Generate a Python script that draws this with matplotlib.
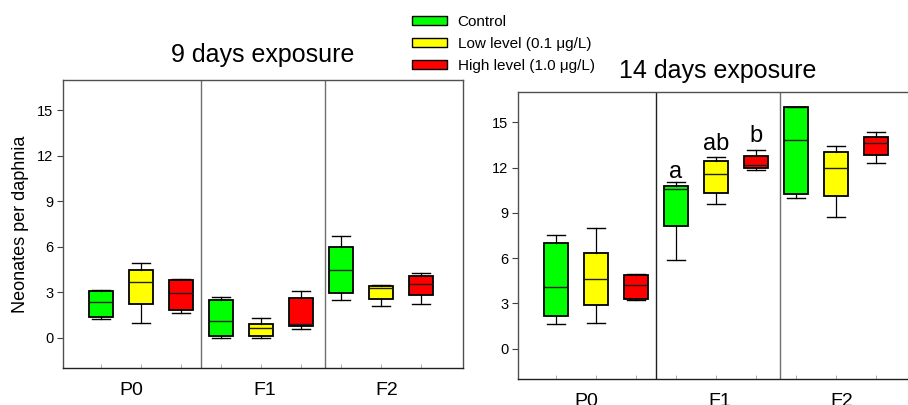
import matplotlib
matplotlib.use("Agg")
import matplotlib.pyplot as plt
from matplotlib.patches import Patch

plt.rcParams['font.family'] = ['Liberation Sans', 'DejaVu Sans']

generations = ["P0", "F1", "F2"]
treatments = ["Control", "Low level (0.1 \u03bcg/L)", "High level (1.0 \u03bcg/L)"]
colors = ["#00FF00", "#FFFF00", "#FF0000"]

# 9 days exposure: order P0(C,L,H), F1(C,L,H), F2(C,L,H)
d9_whislo = [1.23, 0.99, 1.60, 0.00, 0.00, 0.59, 2.50, 2.09, 2.22]
d9_q1     = [1.34, 2.24, 1.84, 0.13, 0.13, 0.75, 2.97, 2.57, 2.81]
d9_med    = [2.33, 3.67, 2.97, 1.12, 0.61, 0.90, 4.48, 3.25, 3.56]
d9_q3     = [3.10, 4.48, 3.80, 2.50, 0.90, 2.59, 6.00, 3.38, 4.09]
d9_whishi = [3.14, 4.94, 3.87, 2.70, 1.27, 3.10, 6.74, 3.47, 4.28]

# 14 days exposure
d14_whislo = [1.63, 1.74, 3.22, 5.90, 9.56, 11.85, 9.98, 8.74, 12.29]
d14_q1     = [2.16, 2.91, 3.28, 8.15, 10.29, 11.98, 10.22, 10.11, 12.82]
d14_med    = [4.10, 4.60, 4.19, 10.57, 11.56, 12.14, 13.85, 11.94, 13.61]
d14_q3     = [7.00, 6.37, 4.89, 10.81, 12.40, 12.73, 15.99, 13.02, 14.05]
d14_whishi = [7.51, 8.00, 4.93, 11.01, 12.67, 13.17, 16.04, 13.44, 14.32]

letters = ["a", "ab", "b"]
letter_y = [11.3, 13.15, 13.7]

yticks = [0, 3, 6, 9, 12, 15]

W, H = 908, 405
fig = plt.figure(figsize=(W / 100, H / 100), dpi=100)

ax1 = fig.add_axes([63 / W, (H - 368) / H, 400 / W, 288 / H])
ax2 = fig.add_axes([518 / W, (H - 379) / H, 400 / W, 287 / H])

positions = list(range(1, 10))
label_pos = [1.75, 5.1, 8.15]


def draw(ax, lo, q1, med, q3, hi, sep_colors):
    stats = []
    for i in range(9):
        stats.append(dict(whislo=lo[i], q1=q1[i], med=med[i], q3=q3[i],
                          whishi=hi[i], fliers=[]))
    bp = ax.bxp(stats, positions=positions, widths=0.62, patch_artist=True,
                showfliers=False, capwidths=0.44,
                boxprops=dict(edgecolor='black', linewidth=1.3),
                medianprops=dict(color='#202020', linewidth=1.0),
                whiskerprops=dict(color='black', linewidth=0.9),
                capprops=dict(color='black', linewidth=1.0),
                manage_ticks=False)
    for i, box in enumerate(bp['boxes']):
        box.set_facecolor(colors[i % 3])
    ax.set_xlim(0.05, 10.05)
    ax.set_ylim(-2, 17)
    ax.set_yticks(yticks)
    ax.tick_params(axis='y', labelsize=10.5, length=4, width=0.8,
                   color='#404040', pad=3)
    ax.set_xticks(label_pos)
    ax.set_xticklabels(generations, fontsize=14)
    ax.tick_params(axis='x', length=0, pad=10)
    ax.set_xticks(positions, minor=True)
    ax.tick_params(axis='x', which='minor', direction='in', length=3,
                   width=0.6, color='#a0a0a0')
    for sx, c in zip([3.5, 6.6], sep_colors):
        ax.axvline(sx, color=c, linewidth=1.0)
    for s in ax.spines.values():
        s.set_color('#505050')
        s.set_linewidth(1.0)
    ax.spines['bottom'].set_color('#202020')


draw(ax1, d9_whislo, d9_q1, d9_med, d9_q3, d9_whishi, ['#707070', '#707070'])
draw(ax2, d14_whislo, d14_q1, d14_med, d14_q3, d14_whishi, ['#202020', '#707070'])

ax1.set_ylabel("Neonates per daphnia", fontsize=13, labelpad=6)
ax1.set_title("9 days exposure", fontsize=18, pad=13)
ax2.set_title("14 days exposure", fontsize=18, pad=10)

for i, t in enumerate(letters):
    ax2.text(positions[3 + i], letter_y[i], t, ha='center', va='baseline',
             fontsize=17)

handles = [Patch(facecolor=c, edgecolor='black', linewidth=1.0) for c in colors]
fig.legend(handles, treatments, loc='upper left',
           bbox_to_anchor=(401 / W, 1 - 4 / H), frameon=False,
           fontsize=11, handlelength=2.3, handleheight=0.5,
           handletextpad=0.7, labelspacing=0.52, borderpad=0.2)

fig.savefig("out.png", dpi=100)
